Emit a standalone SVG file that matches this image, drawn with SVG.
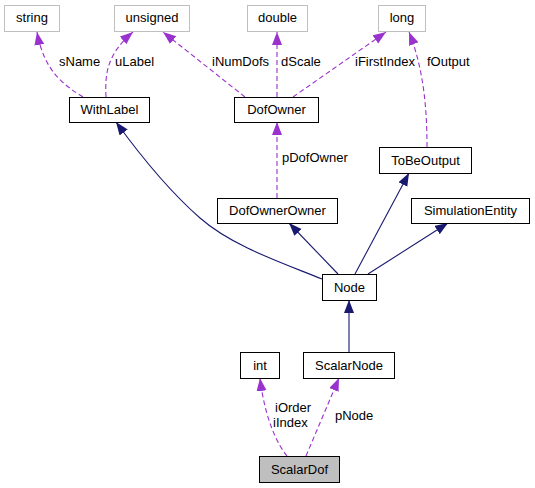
<svg xmlns="http://www.w3.org/2000/svg" width="535" height="488" viewBox="0 0 535 488">
<style>
text{font-family:"Liberation Sans",Arial,sans-serif;font-size:13px;fill:#000}
.n rect{fill:#fff;stroke:#000;stroke-width:1}
.g rect{fill:#fff;stroke:#bfbfbf;stroke-width:1}
.c text{text-anchor:middle}
.d{fill:none;stroke:#9a32cd;stroke-width:1.1;stroke-dasharray:5,3}
.s{fill:none;stroke:#191970;stroke-width:1.1}
</style>
<defs>
<marker id="ap" markerUnits="userSpaceOnUse" markerWidth="14" markerHeight="11" refX="13" refY="5" orient="auto"><path d="M0,0 L13,5 L0,10 z" fill="#9a32cd"/></marker>
<marker id="an" markerUnits="userSpaceOnUse" markerWidth="14" markerHeight="11" refX="13" refY="5" orient="auto"><path d="M0,0 L13,5 L0,10 z" fill="#191970"/></marker>
</defs>
<g id="connectors">
<path class="d" marker-end="url(#ap)" d="M83,97 C62,84 44,70 37,32"/>
<path class="d" marker-end="url(#ap)" d="M106,97 C105,75 106,55 133,32"/>
<path class="d" marker-end="url(#ap)" d="M245,97 L163,32"/>
<path class="d" marker-end="url(#ap)" d="M277,97 L277,32"/>
<path class="d" marker-end="url(#ap)" d="M293,97 L386,32"/>
<path class="d" marker-end="url(#ap)" d="M427,147 C427,110 424,70 409,32"/>
<path class="d" marker-end="url(#ap)" d="M277,198 L277,122"/>
<path class="s" marker-end="url(#an)" d="M322,279 C280,262 232,246 200,218 C168,190 140,155 116,122"/>
<path class="s" marker-end="url(#an)" d="M338,274 L289,223"/>
<path class="s" marker-end="url(#an)" d="M355,274 L409,173"/>
<path class="s" marker-end="url(#an)" d="M368,274 L448,223"/>
<path class="s" marker-end="url(#an)" d="M349,352 L349,300"/>
<path class="d" marker-end="url(#ap)" d="M287,456 C278,445 265,420 260,378"/>
<path class="d" marker-end="url(#ap)" d="M306,456 L339,378"/>
<text x="59" y="66">sName</text>
<text x="115" y="66">uLabel</text>
<text x="212" y="66">iNumDofs</text>
<text x="281" y="66">dScale</text>
<text x="355" y="66">iFirstIndex</text>
<text x="427" y="66">fOutput</text>
<text x="282" y="162">pDofOwner</text>
<text x="275" y="412">iOrder</text>
<text x="273" y="427">iIndex</text>
<text x="335" y="420">pNode</text>
</g>
<g id="string" class="g c"><rect x="4.5" y="5.5" width="55" height="26"/><text x="32" y="22">string</text></g>
<g id="unsigned" class="g c"><rect x="114.5" y="5.5" width="75" height="26"/><text x="152" y="22">unsigned</text></g>
<g id="double" class="g c"><rect x="247.5" y="5.5" width="60" height="26"/><text x="277.5" y="22">double</text></g>
<g id="long" class="g c"><rect x="378.5" y="5.5" width="47" height="26"/><text x="402" y="22">long</text></g>
<g id="WithLabel" class="n c"><rect x="69.5" y="97.5" width="80" height="25"/><text x="109.5" y="114">WithLabel</text></g>
<g id="DofOwner" class="n c"><rect x="234.5" y="97.5" width="84" height="25"/><text x="276.5" y="114">DofOwner</text></g>
<g id="ToBeOutput" class="n c"><rect x="379.5" y="147.5" width="92" height="26"/><text x="425.5" y="164.5">ToBeOutput</text></g>
<g id="DofOwnerOwner" class="n c"><rect x="217.5" y="198.5" width="120" height="25"/><text x="277.5" y="215">DofOwnerOwner</text></g>
<g id="SimulationEntity" class="n c"><rect x="411.5" y="198.5" width="118" height="25"/><text x="470.5" y="215">SimulationEntity</text></g>
<g id="Node" class="n c"><rect x="322.5" y="274.5" width="54" height="26"/><text x="349.5" y="291.5">Node</text></g>
<g id="int" class="n c"><rect x="240.5" y="352.5" width="39" height="26"/><text x="260" y="369.5">int</text></g>
<g id="ScalarNode" class="n c"><rect x="303.5" y="352.5" width="91" height="26"/><text x="349" y="369.5">ScalarNode</text></g>
<g id="ScalarDof" class="n c"><rect x="259.5" y="456.5" width="80" height="26" style="fill:#bfbfbf"/><text x="299.5" y="473.5">ScalarDof</text></g>
</svg>
